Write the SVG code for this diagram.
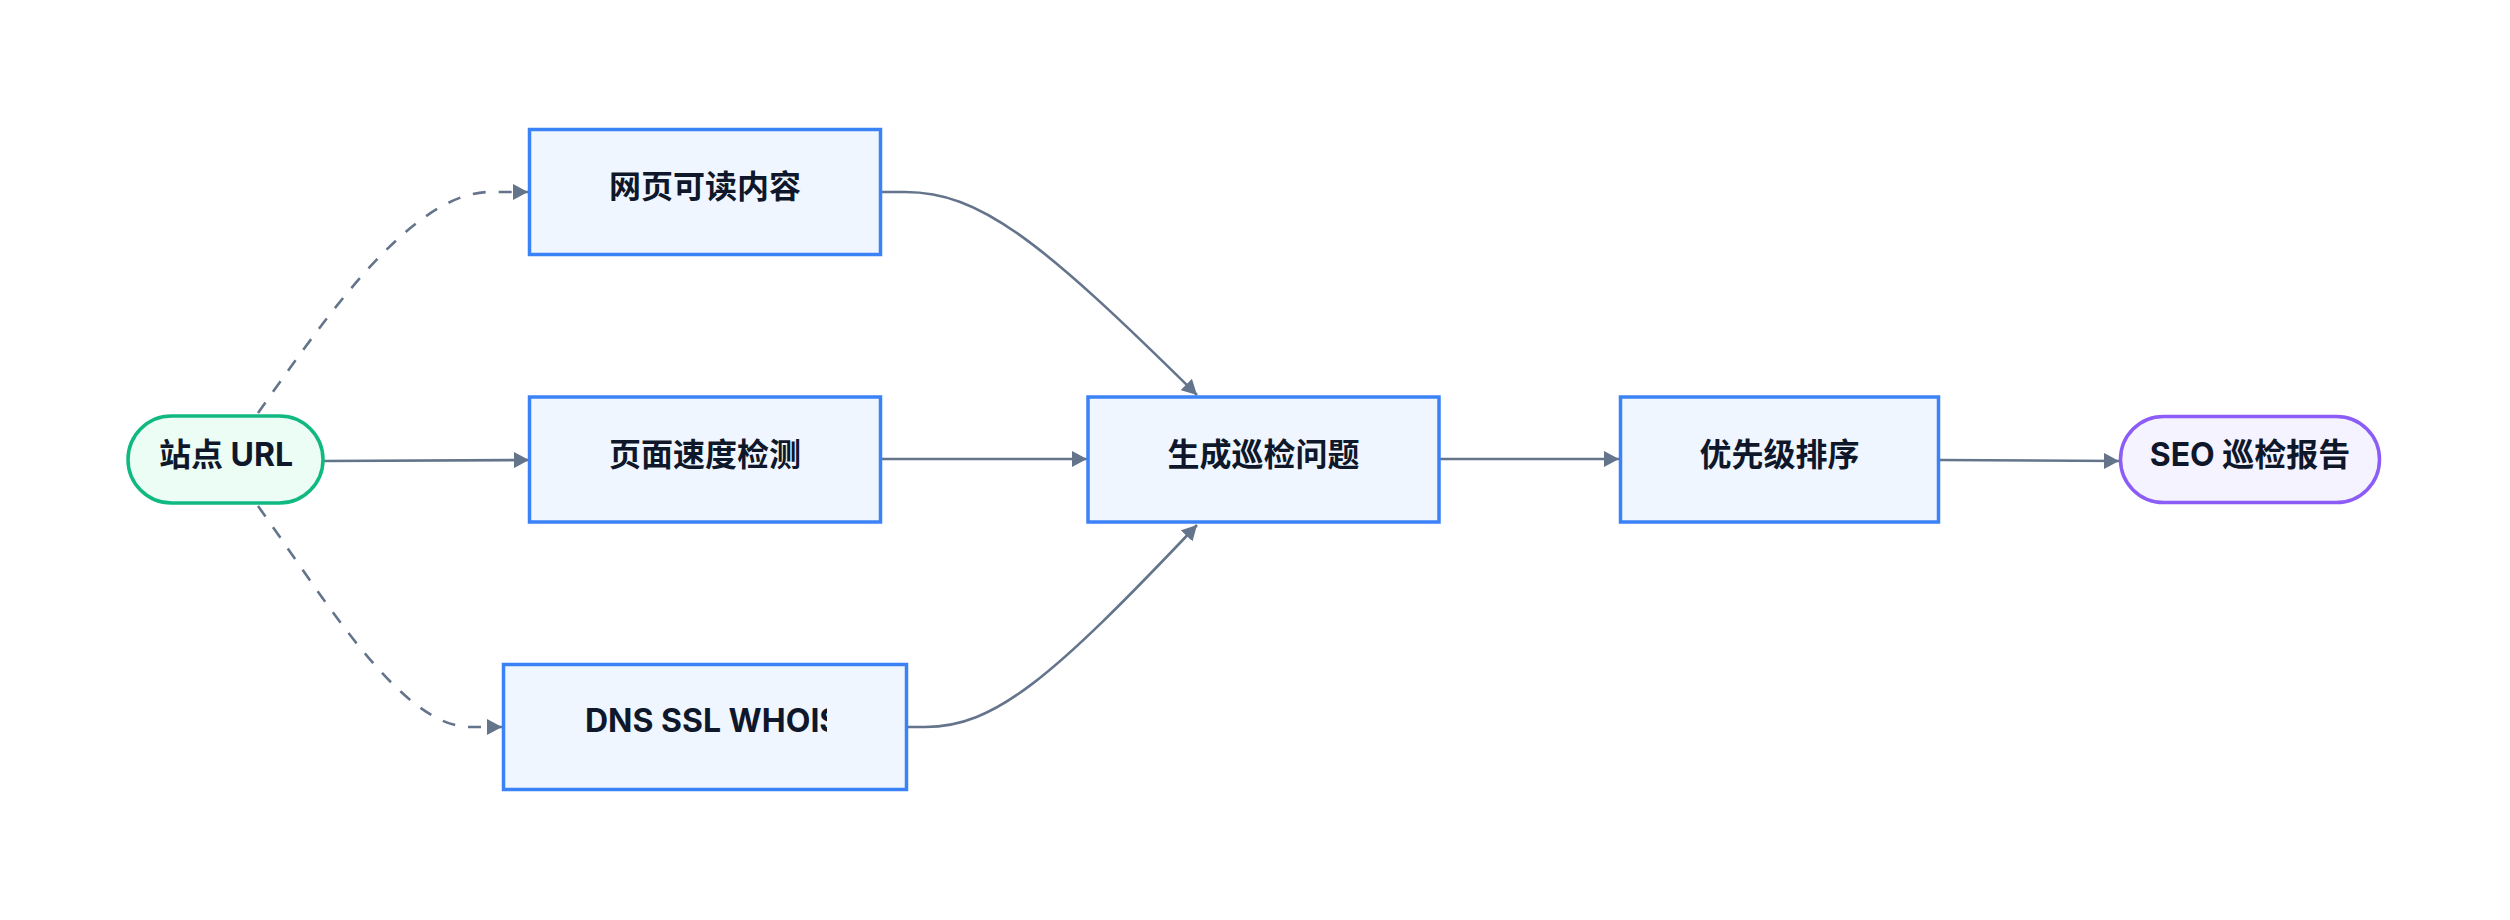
<svg xmlns="http://www.w3.org/2000/svg" width="2510" height="920" viewBox="0 0 2510 920">
<style>
.box{fill:#eff6ff;stroke:#3b82f6;stroke-width:3.5}
.start{fill:#ecfdf5;stroke:#10b981;stroke-width:3.5}
.end{fill:#f5f3ff;stroke:#8b5cf6;stroke-width:3.5}
.lbl{font-family:Inter,"Noto Sans CJK SC",sans-serif;font-size:32px;font-weight:700;fill:#0f172a;text-anchor:middle}
.edge{fill:none;stroke:#64748b;stroke-width:2.6;marker-end:url(#arrow)}
.dash{stroke-dasharray:13 13}
</style>
<defs>
<marker id="arrow" markerUnits="userSpaceOnUse" viewBox="0 0 15 16" markerWidth="15" markerHeight="16" refX="15" refY="8" orient="auto">
<path d="M0,0 L15,8 L0,16 z" fill="#64748b"/>
</marker>
<clipPath id="clipDns"><rect x="585" y="680" width="242" height="80"/></clipPath>
</defs>
<rect width="2510" height="920" fill="#ffffff"/>
<g id="connectors">
<path class="edge dash" d="M258,413 C320,326 410,192 490,192 L528,192"/>
<path class="edge" d="M324,461 L529,460"/>
<path class="edge dash" d="M258,506 C320,592 400,727 470,727 L502,727"/>
<path class="edge" d="M882,192 L905,192 C980,192 1040,240 1197,395"/>
<path class="edge" d="M882,459 L1087,459"/>
<path class="edge" d="M908,727 L925,727 C995,727 1052,678 1197,525"/>
<path class="edge" d="M1440,459 L1619,459"/>
<path class="edge" d="M1940,460 L2119,461"/>
</g>
<g id="n-site-url">
<rect class="start" x="128" y="416" width="195" height="87" rx="43.5"/>
<text class="lbl" x="226" y="466">站点 URL</text>
</g>
<g id="n-readable">
<rect class="box" x="529.5" y="129.5" width="351" height="125"/>
<text class="lbl" x="705" y="198">网页可读内容</text>
</g>
<g id="n-speed">
<rect class="box" x="529.5" y="397" width="351" height="125"/>
<text class="lbl" x="705" y="465.5">页面速度检测</text>
</g>
<g id="n-dns">
<rect class="box" x="503.5" y="664.5" width="403" height="125"/>
<text class="lbl" x="585" y="732" style="text-anchor:start" clip-path="url(#clipDns)">DNS SSL WHOIS</text>
</g>
<g id="n-issues">
<rect class="box" x="1088" y="397" width="351" height="125"/>
<text class="lbl" x="1263.5" y="465.5">生成巡检问题</text>
</g>
<g id="n-priority">
<rect class="box" x="1620.5" y="397" width="318" height="125"/>
<text class="lbl" x="1779.5" y="465.5">优先级排序</text>
</g>
<g id="n-report">
<rect class="end" x="2120.5" y="416.5" width="259" height="86" rx="43"/>
<text class="lbl" x="2250" y="466">SEO 巡检报告</text>
</g>
</svg>
